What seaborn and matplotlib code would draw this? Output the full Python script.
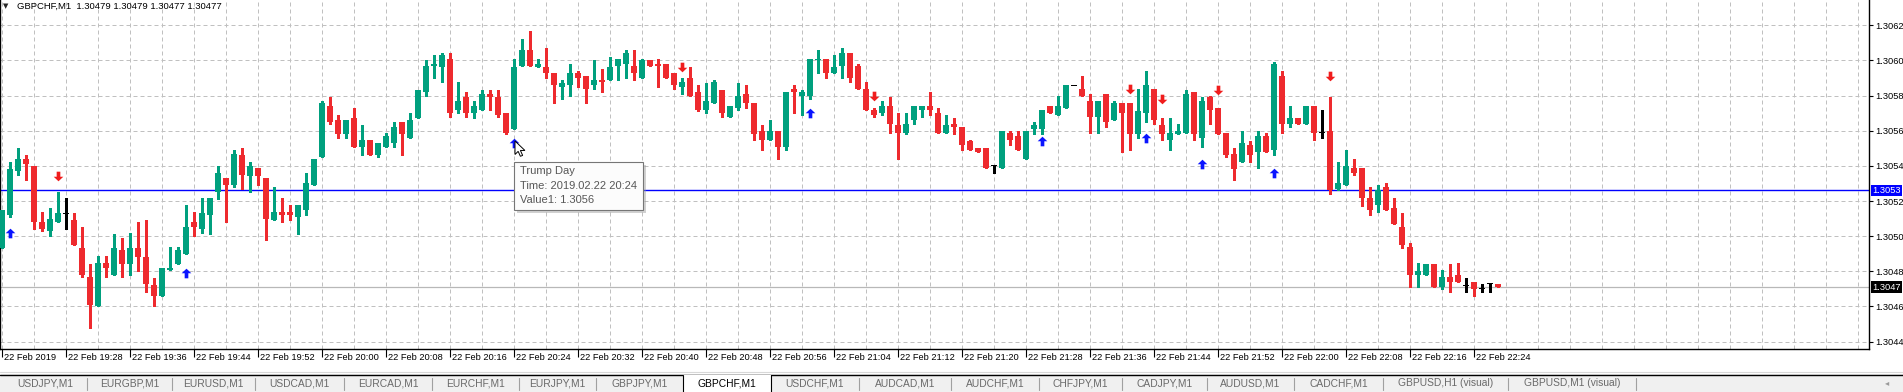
import numpy as np
import pandas as pd
import seaborn as sns
import matplotlib.pyplot as plt
import matplotlib.transforms as mtransforms
from matplotlib.patches import Rectangle, Polygon
from matplotlib.lines import Line2D

# GBPCHF M1 bars, 22 Feb 2019 19:20 .. 22:27
opens = [
    1.30493, 1.30512, 1.30537, 1.30544, 1.30540, 1.30508, 1.30503, 1.30508, 1.30513, 1.30509,
    1.30493, 1.30477, 1.30460, 1.30485, 1.30478, 1.30492, 1.30484, 1.30493, 1.30488, 1.30472,
    1.30466, 1.30481, 1.30484, 1.30490, 1.30508, 1.30504, 1.30512, 1.30525, 1.30533, 1.30529,
    1.30546, 1.30534, 1.30539, 1.30533, 1.30509, 1.30514, 1.30514, 1.30511, 1.30515, 1.30529,
    1.30545, 1.30574, 1.30566, 1.30558, 1.30567, 1.30551, 1.30555, 1.30546, 1.30551, 1.30553,
    1.30565, 1.30556, 1.30567, 1.30582, 1.30597, 1.30596, 1.30601, 1.30572, 1.30579, 1.30570,
    1.30572, 1.30581, 1.30579, 1.30570, 1.30561, 1.30597, 1.30606, 1.30596, 1.30596, 1.30593,
    1.30585, 1.30586, 1.30593, 1.30591, 1.30586, 1.30589, 1.30589, 1.30597, 1.30598, 1.30597,
    1.30590, 1.30600, 1.30598, 1.30598, 1.30593, 1.30585, 1.30590, 1.30582, 1.30572, 1.30576,
    1.30583, 1.30568, 1.30573, 1.30581, 1.30576, 1.30560, 1.30555, 1.30560, 1.30551, 1.30584,
    1.30580, 1.30580, 1.30600, 1.30601, 1.30593, 1.30597, 1.30604, 1.30597, 1.30584, 1.30572,
    1.30570, 1.30574, 1.30563, 1.30559, 1.30566, 1.30572, 1.30574, 1.30570, 1.30559, 1.30564,
    1.30562, 1.30554, 1.30550, 1.30550, 1.30540, 1.30539, 1.30559, 1.30557, 1.30544, 1.30561,
    1.30561, 1.30574, 1.30569, 1.30573, 1.30586, 1.30584, 1.30577, 1.30568, 1.30581, 1.30566,
    1.30576, 1.30576, 1.30558, 1.30570, 1.30584, 1.30563, 1.30555, 1.30558, 1.30559, 1.30582,
    1.30556, 1.30579, 1.30573, 1.30559, 1.30547, 1.30542, 1.30552, 1.30548, 1.30557, 1.30549,
    1.30591, 1.30564, 1.30567, 1.30564, 1.30574, 1.30559, 1.30560, 1.30527, 1.30529, 1.30539,
    1.30539, 1.30522, 1.30518, 1.30528, 1.30516, 1.30505, 1.30494, 1.30478, 1.30478, 1.30484,
    1.30471, 1.30477, 1.30478, 1.30472, 1.30474, 1.30470, 1.30473, 1.30473,
]
highs = [
    1.30515, 1.30542, 1.30550, 1.30546, 1.30540, 1.30514, 1.30516, 1.30525, 1.30522, 1.30513,
    1.30505, 1.30484, 1.30489, 1.30489, 1.30501, 1.30499, 1.30502, 1.30508, 1.30509, 1.30476,
    1.30482, 1.30494, 1.30494, 1.30518, 1.30514, 1.30522, 1.30522, 1.30540, 1.30533, 1.30549,
    1.30550, 1.30542, 1.30539, 1.30533, 1.30528, 1.30522, 1.30518, 1.30518, 1.30536, 1.30544,
    1.30577, 1.30579, 1.30569, 1.30566, 1.30573, 1.30563, 1.30555, 1.30553, 1.30559, 1.30565,
    1.30565, 1.30570, 1.30583, 1.30600, 1.30603, 1.30604, 1.30604, 1.30588, 1.30582, 1.30577,
    1.30583, 1.30583, 1.30583, 1.30570, 1.30601, 1.30612, 1.30617, 1.30601, 1.30607, 1.30593,
    1.30589, 1.30598, 1.30594, 1.30591, 1.30600, 1.30595, 1.30602, 1.30601, 1.30606, 1.30606,
    1.30601, 1.30600, 1.30601, 1.30598, 1.30593, 1.30590, 1.30596, 1.30586, 1.30587, 1.30589,
    1.30583, 1.30574, 1.30587, 1.30586, 1.30576, 1.30563, 1.30566, 1.30560, 1.30582, 1.30586,
    1.30583, 1.30601, 1.30606, 1.30601, 1.30603, 1.30607, 1.30604, 1.30598, 1.30588, 1.30573,
    1.30577, 1.30579, 1.30570, 1.30570, 1.30574, 1.30574, 1.30582, 1.30573, 1.30569, 1.30567,
    1.30562, 1.30555, 1.30550, 1.30550, 1.30540, 1.30560, 1.30560, 1.30560, 1.30560, 1.30565,
    1.30572, 1.30574, 1.30580, 1.30586, 1.30586, 1.30591, 1.30581, 1.30577, 1.30581, 1.30577,
    1.30576, 1.30576, 1.30584, 1.30594, 1.30584, 1.30567, 1.30567, 1.30564, 1.30583, 1.30582,
    1.30579, 1.30580, 1.30573, 1.30559, 1.30550, 1.30560, 1.30554, 1.30560, 1.30559, 1.30599,
    1.30594, 1.30574, 1.30567, 1.30574, 1.30574, 1.30572, 1.30579, 1.30542, 1.30549, 1.30544,
    1.30539, 1.30528, 1.30529, 1.30530, 1.30522, 1.30513, 1.30496, 1.30485, 1.30484, 1.30484,
    1.30481, 1.30484, 1.30485, 1.30476, 1.30474, 1.30473, 1.30473, 1.30473,
]
lows = [
    1.30493, 1.30511, 1.30535, 1.30532, 1.30504, 1.30503, 1.30500, 1.30508, 1.30504, 1.30495,
    1.30477, 1.30448, 1.30460, 1.30477, 1.30478, 1.30477, 1.30478, 1.30480, 1.30468, 1.30460,
    1.30466, 1.30481, 1.30484, 1.30490, 1.30500, 1.30502, 1.30501, 1.30521, 1.30508, 1.30528,
    1.30527, 1.30525, 1.30529, 1.30498, 1.30509, 1.30508, 1.30509, 1.30501, 1.30512, 1.30529,
    1.30545, 1.30564, 1.30556, 1.30556, 1.30551, 1.30546, 1.30546, 1.30545, 1.30551, 1.30551,
    1.30546, 1.30556, 1.30567, 1.30580, 1.30590, 1.30588, 1.30568, 1.30570, 1.30568, 1.30567,
    1.30572, 1.30572, 1.30568, 1.30558, 1.30561, 1.30597, 1.30597, 1.30596, 1.30590, 1.30576,
    1.30578, 1.30580, 1.30585, 1.30576, 1.30584, 1.30582, 1.30589, 1.30589, 1.30590, 1.30589,
    1.30590, 1.30597, 1.30585, 1.30590, 1.30584, 1.30581, 1.30580, 1.30571, 1.30570, 1.30576,
    1.30568, 1.30568, 1.30572, 1.30573, 1.30555, 1.30549, 1.30555, 1.30544, 1.30549, 1.30570,
    1.30569, 1.30578, 1.30593, 1.30590, 1.30593, 1.30590, 1.30588, 1.30584, 1.30572, 1.30568,
    1.30569, 1.30559, 1.30544, 1.30558, 1.30564, 1.30568, 1.30569, 1.30559, 1.30559, 1.30558,
    1.30549, 1.30549, 1.30548, 1.30539, 1.30536, 1.30539, 1.30552, 1.30549, 1.30544, 1.30558,
    1.30558, 1.30570, 1.30569, 1.30573, 1.30586, 1.30580, 1.30559, 1.30559, 1.30562, 1.30566,
    1.30548, 1.30549, 1.30556, 1.30565, 1.30564, 1.30555, 1.30549, 1.30558, 1.30559, 1.30555,
    1.30551, 1.30564, 1.30558, 1.30545, 1.30532, 1.30542, 1.30542, 1.30539, 1.30548, 1.30546,
    1.30559, 1.30562, 1.30564, 1.30564, 1.30555, 1.30556, 1.30524, 1.30526, 1.30529, 1.30535,
    1.30517, 1.30512, 1.30514, 1.30515, 1.30507, 1.30493, 1.30471, 1.30471, 1.30478, 1.30471,
    1.30470, 1.30468, 1.30474, 1.30468, 1.30466, 1.30468, 1.30468, 1.30471,
]
closes = [
    1.30515, 1.30538, 1.30544, 1.30541, 1.30508, 1.30504, 1.30510, 1.30513, 1.30513, 1.30495,
    1.30478, 1.30461, 1.30485, 1.30482, 1.30493, 1.30484, 1.30493, 1.30488, 1.30473, 1.30466,
    1.30482, 1.30482, 1.30492, 1.30505, 1.30505, 1.30513, 1.30522, 1.30536, 1.30529, 1.30547,
    1.30535, 1.30540, 1.30534, 1.30510, 1.30514, 1.30512, 1.30512, 1.30518, 1.30530, 1.30544,
    1.30576, 1.30565, 1.30558, 1.30566, 1.30551, 1.30555, 1.30546, 1.30553, 1.30557, 1.30562,
    1.30558, 1.30566, 1.30583, 1.30597, 1.30598, 1.30603, 1.30570, 1.30577, 1.30570, 1.30574,
    1.30581, 1.30579, 1.30569, 1.30559, 1.30596, 1.30606, 1.30597, 1.30598, 1.30593, 1.30586,
    1.30587, 1.30593, 1.30590, 1.30584, 1.30589, 1.30588, 1.30596, 1.30601, 1.30604, 1.30593,
    1.30600, 1.30597, 1.30597, 1.30590, 1.30586, 1.30588, 1.30580, 1.30572, 1.30577, 1.30588,
    1.30570, 1.30574, 1.30580, 1.30576, 1.30558, 1.30555, 1.30560, 1.30551, 1.30582, 1.30582,
    1.30582, 1.30601, 1.30601, 1.30593, 1.30596, 1.30604, 1.30590, 1.30584, 1.30572, 1.30569,
    1.30574, 1.30564, 1.30559, 1.30564, 1.30574, 1.30574, 1.30572, 1.30559, 1.30563, 1.30562,
    1.30552, 1.30549, 1.30548, 1.30539, 1.30540, 1.30560, 1.30555, 1.30549, 1.30560, 1.30563,
    1.30572, 1.30570, 1.30574, 1.30586, 1.30586, 1.30580, 1.30568, 1.30577, 1.30565, 1.30576,
    1.30570, 1.30558, 1.30571, 1.30586, 1.30566, 1.30558, 1.30559, 1.30560, 1.30581, 1.30558,
    1.30577, 1.30572, 1.30558, 1.30546, 1.30538, 1.30553, 1.30546, 1.30557, 1.30548, 1.30598,
    1.30564, 1.30567, 1.30564, 1.30574, 1.30559, 1.30559, 1.30526, 1.30530, 1.30540, 1.30536,
    1.30522, 1.30515, 1.30526, 1.30515, 1.30507, 1.30495, 1.30478, 1.30480, 1.30484, 1.30471,
    1.30477, 1.30474, 1.30474, 1.30472, 1.30470, 1.30470, 1.30473, 1.30471,
]

# indicator arrows (bar index, price)
up_bars = [1, 23, 64, 101, 130, 143, 150, 159]
up_vals = [1.30502, 1.30479, 1.30553, 1.30570, 1.30554, 1.30556, 1.30541, 1.30536]
down_bars = [7, 85, 109, 141, 145, 152, 166]
down_vals = [1.30534, 1.30596, 1.30580, 1.30584, 1.30578, 1.30583, 1.30591]

level_line = 1.30526
price_ticks = [1.3044, 1.3046, 1.3048, 1.3050, 1.3052, 1.3054, 1.3056, 1.3058, 1.3060, 1.3062]
label_bars = list(range(0, 185, 8))
time_labels = ["22 Feb 2019", "22 Feb 19:28", "22 Feb 19:36", "22 Feb 19:44", "22 Feb 19:52",
               "22 Feb 20:00", "22 Feb 20:08", "22 Feb 20:16", "22 Feb 20:24", "22 Feb 20:32",
               "22 Feb 20:40", "22 Feb 20:48", "22 Feb 20:56", "22 Feb 21:04", "22 Feb 21:12",
               "22 Feb 21:20", "22 Feb 21:28", "22 Feb 21:36", "22 Feb 21:44", "22 Feb 21:52",
               "22 Feb 22:00", "22 Feb 22:08", "22 Feb 22:16", "22 Feb 22:24"]
tabs = ["USDJPY,M1", "EURGBP,M1", "EURUSD,M1", "USDCAD,M1", "EURCAD,M1", "EURCHF,M1",
        "EURJPY,M1", "GBPJPY,M1", "GBPCHF,M1", "USDCHF,M1", "AUDCAD,M1", "AUDCHF,M1",
        "CHFJPY,M1", "CADJPY,M1", "AUDUSD,M1", "CADCHF,M1", "GBPUSD,H1 (visual)", "GBPUSD,M1 (visual)"]
tab_edges = [3, 87, 172, 255, 344, 432, 519, 596, 683, 771, 859, 951, 1039, 1122, 1207, 1294, 1383, 1508, 1636]
active_tab = "GBPCHF,M1"

GREEN = "#00a07e"
RED = "#ee2a2e"
SMALL = 6.7

sns.set_theme(style="white")
plt.rcParams["font.family"] = ["Liberation Sans", "DejaVu Sans"]

W, H = 1903, 392
fig = plt.figure(figsize=(W / 100, H / 100), dpi=100)
fig.patch.set_facecolor("white")


def fx(x):
    return x / W


def fy(y):
    return 1 - y / H


ax = fig.add_axes([0, fy(349), fx(1869), 349 / H])
ax.set_facecolor("white")

df = pd.DataFrame({"open": opens, "high": highs, "low": lows, "close": closes})
df["bar"] = np.arange(len(df))
df["color"] = np.where(df.close > df.open, GREEN, np.where(df.close < df.open, RED, "black"))
one_px = (1.306344 - 1.304358) / 349
body_lo = np.minimum(df.open, df.close)
body_h = (df.close - df.open).abs()
body_lo = np.where(body_h < one_px, df.open - one_px / 2, body_lo)
body_h = np.maximum(body_h, one_px)

ax.vlines(df.bar, df.low, df.high, colors=df.color, linewidth=0.75, antialiased=False, zorder=3)
ax.bar(df.bar, body_h, bottom=body_lo, width=0.64, color=df.color, linewidth=0,
       antialiased=False, zorder=4)

# arrows
up_arrow = [(0, 1), (1, 0.05), (0.38, 0.05), (0.38, -1), (-0.38, -1), (-0.38, 0.05), (-1, 0.05), (0, 1)]
down_arrow = [(x, -y) for x, y in up_arrow]
sns.scatterplot(x=up_bars, y=up_vals, marker=up_arrow, s=48, color="#0a14ff",
                linewidth=0, ax=ax, zorder=5, legend=False)
sns.scatterplot(x=down_bars, y=down_vals, marker=down_arrow, s=48, color="#f01c1c",
                linewidth=0, ax=ax, zorder=5, legend=False)

ax.axhline(level_line, color="#0000ff", linewidth=1.0, zorder=2)
ax.axhline(closes[-1], color="#b8b8b8", linewidth=0.9, zorder=2)

ax.set_xlim(-0.25, 233.375)
ax.set_ylim(1.304358, 1.306344)

# grid
ax.set_yticks(price_ticks)
ax.yaxis.set_major_formatter("{x:.4f}")
ax.set_xticks(label_bars)
ax.set_xticklabels([])
ax.set_xticks(np.arange(4, 234, 4), minor=True)
grid_kw = dict(color="#c0c0c0", linestyle=(0, (4, 3)), linewidth=0.72)
ax.grid(True, which="both", axis="x", **grid_kw)
ax.grid(True, which="major", axis="y", **grid_kw)
ax.set_axisbelow(True)

ax.yaxis.tick_right()
ax.tick_params(axis="y", which="major", length=3, width=0.8, pad=1.5, labelsize=SMALL,
               colors="black", direction="out", right=True, left=False)
ax.tick_params(axis="x", which="major", length=6, width=0.8, colors="black", direction="out",
               bottom=True)
ax.tick_params(axis="x", which="minor", length=0)

for sp in ["left", "bottom", "right"]:
    ax.spines[sp].set_color("black")
    ax.spines[sp].set_linewidth(1.0)
ax.spines["top"].set_visible(False)

for b, lab in zip(label_bars, time_labels):
    ax.annotate(lab, xy=(b, 0), xycoords=("data", "axes fraction"), xytext=(1.8, -2.8),
                textcoords="offset points", ha="left", va="top", fontsize=SMALL,
                color="black", annotation_clip=False)

# price labels on the right axis
trans = mtransforms.blended_transform_factory(ax.transAxes, ax.transData)
ax.text(1.0018, level_line, "1.3053", transform=trans, ha="left", va="center", fontsize=SMALL,
        color="white", bbox=dict(boxstyle="square,pad=0.15", fc="#0000ff", ec="none"), clip_on=False)
ax.text(1.0018, closes[-1], "1.3047", transform=trans, ha="left", va="center", fontsize=SMALL,
        color="white", bbox=dict(boxstyle="square,pad=0.15", fc="black", ec="none"), clip_on=False)

# header
fig.text(fx(3), fy(6), "\u25bc", fontsize=5, va="center", ha="left", family="DejaVu Sans")
fig.text(fx(17), fy(6.5), "GBPCHF,M1  1.30479 1.30479 1.30477 1.30477", fontsize=6.8,
         va="center", ha="left", color="black")

# tooltip
fig.add_artist(Rectangle((fx(517), fy(213)), fx(129), (213 - 165) / H, transform=fig.transFigure,
                         fc="#9a9a9a", ec="none", alpha=0.45, zorder=5))
fig.add_artist(Rectangle((fx(514), fy(210)), fx(129), (210 - 162) / H, transform=fig.transFigure,
                         fc="#fcfcfc", ec="#767676", lw=0.8, zorder=6))
for yy, txt in zip([171, 186, 200], ["Trump Day", "Time: 2019.02.22 20:24", "Value1: 1.3056"]):
    fig.text(fx(520), fy(yy), txt, fontsize=8, color="#575757", va="center", ha="left", zorder=7)

# mouse cursor
cur = [(0, 0), (0, 15), (3.5, 11.5), (6, 17), (8.5, 16), (6, 10.5), (11, 10.5)]
tip_x, tip_y = 515, 141
fig.add_artist(Polygon([(fx(tip_x + cx * 0.9), fy(tip_y + cy * 0.9)) for cx, cy in cur],
                       closed=True, transform=fig.transFigure, fc="white", ec="black",
                       lw=0.7, zorder=8))

# tab bar
fig.add_artist(Rectangle((0, 0), 1, fy(374), transform=fig.transFigure, fc="#f0f0f0",
                         ec="none", zorder=1))
fig.add_artist(Line2D([0, 1], [fy(372), fy(372)], transform=fig.transFigure, color="#d8d8d8", lw=0.8))
fig.add_artist(Line2D([0, 1], [fy(374.5), fy(374.5)], transform=fig.transFigure, color="black", lw=1.0))
for i, name in enumerate(tabs):
    x0, x1 = tab_edges[i], tab_edges[i + 1]
    if name == active_tab:
        fig.add_artist(Rectangle((fx(x0), 0), fx(x1 - x0), fy(375), transform=fig.transFigure,
                                 fc="white", ec="none", zorder=2))
        for xe in (x0, x1):
            fig.add_artist(Line2D([fx(xe), fx(xe)], [0, fy(374.5)], transform=fig.transFigure,
                                  color="black", lw=0.8, zorder=3))
        col = "black"
    else:
        col = "#6a6a6a"
        if i + 1 == len(tabs) or tabs[i + 1] != active_tab:
            fig.add_artist(Line2D([fx(x1), fx(x1)], [fy(390), fy(378)], transform=fig.transFigure,
                                  color="#a0a0a0", lw=0.8, zorder=3))
    fig.text(fx((x0 + x1) / 2), fy(383.5), name, fontsize=7.4, color=col, ha="center",
             va="center", zorder=4)
fig.text(fx(1887), fy(383), "\u25c2", fontsize=6, color="#9a9a9a", ha="center", va="center",
         family="DejaVu Sans", zorder=4)

fig.savefig("out.png", dpi=100, facecolor="white")
